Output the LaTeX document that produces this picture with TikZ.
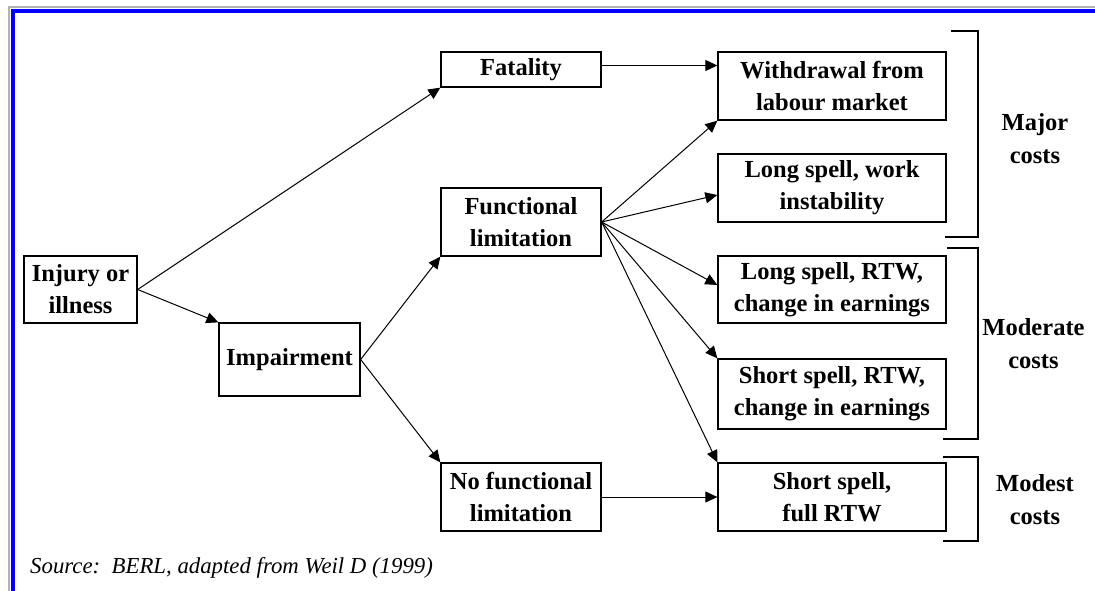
\documentclass[tikz,border=0pt]{standalone}
\usepackage{fontspec}
\setmainfont{Liberation Serif}
\usetikzlibrary{arrows.meta}
\begin{document}
\begin{tikzpicture}[x=1pt,y=-1pt,
  box/.style={draw=black, line width=1.3pt, inner sep=0pt, align=center,
    font=\fontsize{24.5}{32}\selectfont\bfseries},
  lbl/.style={inner sep=0pt, align=center, font=\fontsize{24.5}{33}\selectfont\bfseries},
  conn/.style={line width=1pt, -{Triangle[length=12pt,width=11pt]}},
  brk/.style={line width=1.3pt},
  wide/.style={minimum width=228pt}]
\useasboundingbox (0,0) rectangle (1095,591);
\fill[white] (0,0) rectangle (1095,591);
\draw[gray!60, line width=2pt] (8.5,591) -- (8.5,7.5) -- (1095,7.5);
\draw[blue, line width=4pt] (12.5,591) -- (12.5,11.5) -- (1095,11.5);

% boxes
\node[box, minimum width=113pt, minimum height=67pt] (inj) at (80.5,289.5) {Injury or\\illness};
\node[box, minimum width=141pt, minimum height=73pt] (imp) at (289.5,359.5) {Impairment};
\node[box, minimum width=160pt, minimum height=35pt] (fat) at (521,69.5) {Fatality};
\node[box, minimum width=160pt, minimum height=68pt] (fl) at (521,222) {Functional\\limitation};
\node[box, minimum width=160pt, minimum height=68pt] (nfl) at (521,497) {No functional\\limitation};
\node[box, wide, minimum height=68pt] (wd) at (832,86) {Withdrawal from\\labour market};
\node[box, wide, minimum height=68pt] (lw) at (832,188) {Long spell, work\\instability};
\node[box, wide, minimum height=67pt] (lr) at (832,289.5) {Long spell, RTW,\\change in earnings};
\node[box, wide, minimum height=70pt] (sr) at (832,394) {Short spell, RTW,\\change in earnings};
\node[box, wide, minimum height=68pt] (sf) at (832,497) {Short spell,\\full RTW};

% cost labels
\node[lbl] (major) at (1035,139) {Major\\costs};
\node[lbl] (moderate) at (1033.5,344) {Moderate\\costs};
\node[lbl] (modest) at (1035,500) {Modest\\costs};

% brackets
\draw[brk] (951,31) -- (978,31) -- (978,237) -- (945,237);
\draw[brk] (947,248) -- (978,248) -- (978,439) -- (943,439);
\draw[brk] (943,457) -- (978,457) -- (978,541) -- (943,541);

% connectors
\coordinate (fe) at ([yshift=4pt]fat.east);
\draw[conn] (inj.east) -- (fat.south west);
\draw[conn] (inj.east) -- (imp.north west);
\draw[conn] (imp.east) -- (fl.south west);
\draw[conn] (imp.east) -- (nfl.north west);
\draw[conn] (fe) -- (fe -| wd.west);
\draw[conn] (fl.east) -- (wd.south west);
\draw[conn] (fl.east) -- ([yshift=-7pt]lw.west);
\draw[conn] (fl.east) -- ([yshift=4.5pt]lr.west);
\draw[conn] (fl.east) -- (sr.north west);
\draw[conn] (fl.east) -- (sf.north west);
\draw[conn] (nfl.east) -- (sf.west);

% source
\node[anchor=base west, inner sep=0pt, font=\fontsize{22.8}{27}\selectfont\itshape] (src) at (30,573) {Source:\ \ BERL, adapted from Weil D (1999)};
\end{tikzpicture}
\end{document}
